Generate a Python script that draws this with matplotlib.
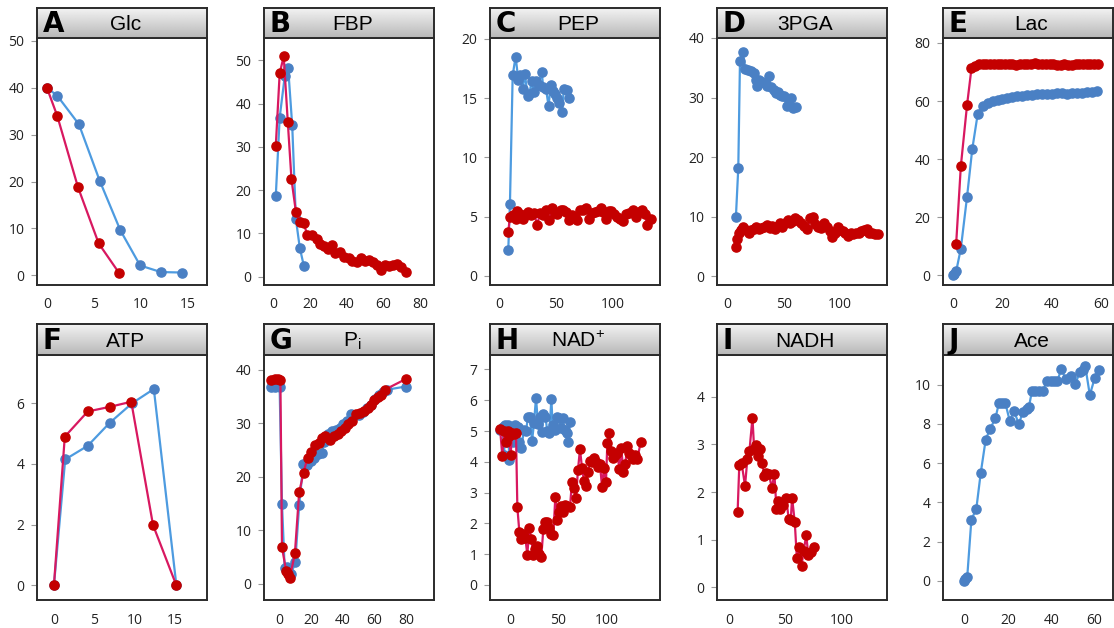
import numpy as np
import matplotlib
matplotlib.use("Agg")
import matplotlib.pyplot as plt

# ---- data ----
glc_blue_x = [0, 1.1, 3.4, 5.6, 7.8, 9.9, 12.1, 14.3]
glc_blue_y = [40, 38.3, 32.2, 20.2, 9.6, 2.1, 0.7, 0.6]
glc_red_x = [0, 1.1, 3.3, 5.5, 7.7]
glc_red_y = [40, 34, 18.8, 6.8, 0.4]

fbp_blue_x = [1.5, 3.6, 6.4, 8.2, 10.4, 12.4, 14.5, 16.7]
fbp_blue_y = [18.7, 36.8, 46.5, 48.3, 35, 13.3, 6.7, 2.5]
fbp_red_x = [1.5, 3.6, 5.8, 8, 10, 12.4, 14.5, 16.7, 18.5, 21, 23.6, 25.5, 27.6, 30, 32,
             33.6, 36.4, 38.5, 41, 43, 45.5, 47.6, 50, 52, 54, 56.4, 58.5, 60.7, 63, 65,
             67.3, 69.6, 72]
fbp_red_y = [30.3, 47, 51, 35.8, 22.5, 15, 12.7, 12.3, 9.7, 9.6, 8.7, 7.5, 7.0, 6.5, 7.3,
             5.5, 5.7, 4.5, 4.3, 3.7, 3.5, 4.3, 3.6, 3.8, 3.3, 2.7, 1.6, 2.7, 2.4, 2.6,
             2.9, 2.2, 1.1]

pep_blue_x = [7.9, 9.4, 11.8, 14.4, 16.8, 18.2, 20.6, 22.6, 25, 26.5, 28.5, 30.6, 32.4,
              34.7, 37.4, 38.8, 41.2, 43.5, 45.3, 47.6, 49.4, 51.2, 53, 55.3, 57, 59.4, 61.8]
pep_blue_y = [2.15, 6.1, 16.9, 18.5, 16.5, 16.9, 15.8, 17.0, 15.2, 15.3, 16.4, 15.5, 16.4,
              16.1, 17.2, 15.9, 15.8, 14.3, 16.1, 15.6, 15.3, 15.0, 14.6, 13.8, 15.8, 15.7, 15.0]
pep_red_x = [7.9, 9.4, 11.8, 14.7, 15.9, 18.2, 20.6, 22.9, 25.3, 27.6, 30.6, 33.5, 35.9,
             38.8, 41.2, 44.1, 46.5, 48.8, 51.2, 54.1, 56.5, 58.8, 61.8, 64.1, 66.5, 68.8,
             71.2, 73.5, 76.5, 79.4, 81.8, 84.1, 87.1, 90, 91.8, 94.1, 96.5, 98.8, 101.2,
             103.5, 106.5, 109.4, 111.8, 114.1, 117.6, 120.6, 123.5, 125.9, 128.2, 130.6, 133.5]
pep_red_y = [3.7, 5.0, 5.1, 4.8, 5.5, 5.2, 4.8, 5.1, 5.4, 5.1, 5.3, 4.3, 5.3, 5.1, 5.6,
             4.7, 5.7, 5.3, 5.2, 5.6, 5.6, 5.4, 4.7, 5.1, 5.0, 4.7, 5.6, 5.6, 5.7, 4.8,
             5.3, 5.4, 5.5, 5.7, 5.4, 4.8, 5.5, 5.5, 5.2, 5.0, 4.8, 4.6, 5.2, 5.3, 5.6,
             5.0, 5.4, 5.6, 5.2, 4.3, 4.8]

pga_blue_x = [7.5, 9.6, 11.1, 13.5, 15.9, 18.6, 20.7, 23.1, 24.9, 26.6, 28.4, 30.8, 33.2,
              35.0, 36.8, 38.6, 41, 42.8, 44.6, 46.4, 48.8, 50.6, 52.4, 54.5, 56.6, 58.4, 60.5]
pga_blue_y = [10.0, 18.2, 36.2, 37.6, 34.8, 34.7, 34.4, 34.1, 33.0, 32.0, 32.9, 32.6, 32.5,
              32.0, 33.6, 31.8, 31.3, 30.7, 31.0, 30.4, 30.3, 30.3, 28.5, 29.8, 30.0, 28.2, 28.4]
pga_red_x = [7.5, 8.7, 10.5, 12.3, 14.1, 16.5, 18.9, 20.7, 23.1, 25.4, 27.8, 30.2, 32.6,
             35.0, 37.4, 39.8, 42.2, 44.6, 46.4, 48.8, 51.2, 53.6, 55.4, 57.8, 60.2, 62.6,
             65.0, 68.0, 71.0, 73.4, 75.7, 78.1, 80.5, 82.9, 85.9, 88.3, 91.3, 93.1, 95.5,
             97.9, 99.7, 102.1, 104.5, 106.9, 109.3, 111.7, 114.1, 116.5, 118.9, 121.3,
             123.7, 126.0, 128.4, 130.8, 133.8]
pga_red_y = [4.9, 6.2, 7.2, 7.8, 8.3, 7.7, 7.2, 7.7, 7.9, 8.2, 7.9, 8.1, 8.2,
             8.5, 8.0, 8.4, 7.9, 8.4, 9.0, 8.2, 9.0, 9.5, 9.0, 9.3, 9.7, 9.4,
             8.9, 8.4, 7.9, 9.7, 10.0, 8.8, 8.2, 8.0, 8.9, 8.3, 7.5, 6.6, 7.2,
             8.3, 7.7, 7.5, 7.2, 6.7, 7.2, 7.1, 7.3, 7.3, 7.5, 7.7,
             7.9, 7.3, 7.2, 7.1, 7.0]

lac_blue_x = [0, 0.5, 1.3, 3.2, 5.7, 7.8, 10.0, 12.1, 14, 16, 18, 20, 22, 24, 26, 28, 30,
              32, 34, 36, 38, 40, 42, 44, 46, 48, 50, 52, 54, 56, 58]
lac_blue_y = [0, 0.5, 1.3, 9.2, 27, 43.4, 55.5, 58.2, 59.2, 60, 60.5, 60.8, 61.2, 61.5,
              61.8, 61.9, 62, 62.2, 62.3, 62.4, 62.4, 62.5, 62.6, 62.6, 62.5, 62.6, 62.7,
              62.8, 63.0, 63.0, 63.3]
lac_red_x = [1.3, 3.2, 5.7, 7.5, 9.0, 10.5, 12, 13.5, 15, 16.5, 18, 19.5, 21, 22.5, 24,
             25.5, 27, 28.5, 30, 31.5, 33, 34.5, 36, 37.5, 39, 40.5, 42, 43.5, 45, 46.5,
             48, 49.5, 51, 52.5, 54, 55.5, 57, 58.5]
lac_red_y = [10.7, 37.6, 58.6, 71.3, 72.2, 72.6, 72.7, 72.6, 72.6, 72.6, 72.6, 72.7, 72.8,
             72.7, 72.8, 72.5, 72.6, 72.7, 72.8, 72.9, 73.0, 72.9, 72.8, 72.8, 72.7, 72.6,
             72.5, 72.4, 72.6, 72.5, 72.5, 72.6, 72.6, 72.7, 72.7, 72.7, 72.8, 72.8]

atp_blue_x = [0, 1.4, 4.2, 6.9, 9.7, 12.4, 15.2]
atp_blue_y = [0, 4.15, 4.6, 5.35, 6.0, 6.47, 0]
atp_red_x = [0, 1.35, 4.2, 6.9, 9.6, 12.3, 15.2]
atp_red_y = [0, 4.9, 5.73, 5.88, 6.05, 1.99, 0]

pi_blue_x = [-5.3, -2.7, 0, 1.5, 3.2, 4.8, 7.4, 9.9, 12.4, 15, 17.5, 19.6, 21.7, 24.2, 26.7,
             28.4, 30.5, 33, 35.6, 38.1, 40.2, 42.7, 45.3, 47.8, 50.3, 52.8, 55.4, 57.9,
             60.4, 63, 65.5, 68, 80]
pi_blue_y = [36.9, 36.9, 36.9, 15.0, 2.9, 3.2, 1.9, 4.0, 14.7, 22.4, 22.2, 22.9, 23.5,
             24.3, 24.4, 26.6, 28.0, 28.5, 28.8, 29.1, 29.9, 30.5, 31.8, 31.6, 31.6, 32.1,
             32.9, 33.5, 34.6, 35.4, 35.9, 36.3, 36.9]
pi_red_x = [-5.3, -3.2, -1.1, 0.5, 1.5, 4.2, 5.3, 6.5, 9.7, 12.4, 15.2, 17.7, 20.0, 22.7,
            25.1, 26.7, 28.8, 31.8, 34.3, 36.8, 38.9, 41.5, 43.2, 45.7, 48.2, 50.7, 53.3,
            55.8, 57.9, 60.0, 62.1, 64.2, 66.7, 80]
pi_red_y = [38.1, 38.3, 38.3, 38.1, 6.8, 2.3, 1.9, 1.1, 5.7, 17.1, 20.8, 23.6, 24.6, 25.9,
            26.4, 27.2, 27.6, 26.8, 27.6, 28.0, 28.5, 29.1, 29.8, 30.4, 31.8, 31.9, 32.4,
            32.9, 33.4, 34.3, 34.9, 35.3, 36.3, 38.3]

nad_blue_x = [-10.3, -7.6, -6.2, -4.8, -3.4, -2.1, -0.7, 1.0, 2.8, 5.5, 8.3, 9.7, 11.7, 14.5,
              16.6, 18.6, 20.7, 22.8, 24.8, 26.9, 29, 31, 33.1, 34.5, 36.6, 38.6, 40.7,
              42.8, 44.1, 46.2, 48.3, 50.3, 52.4, 54.5, 56.6, 58.6, 60, 62.1]
nad_blue_y = [5.03, 5.14, 4.22, 5.19, 4.65, 5.2, 4.06, 4.8, 4.65, 5.19, 5.14, 4.65, 4.46,
              5.03, 5.0, 5.47, 5.47, 4.67, 5.25, 6.08, 5.22, 5.47, 4.98, 5.55, 5.47, 5.0,
              4.93, 6.04, 5.19, 5.03, 5.47, 5.41, 5.09, 5.41, 5.03, 4.93, 4.63, 5.28]
nad_red_x = [-10.3, -7.9, -6.2, -4.5, -2.4, -0.7, 0.7, 2.1, 4.1, 6.2, 7.6, 9.7, 11.7, 13.8,
             15.9, 17.9, 20.0, 22.1, 24.1, 26.2, 28.3, 30.3, 32.4, 34.5, 36.6, 38.6, 40.7,
             42.8, 44.8, 46.9, 49.0, 51.0, 53.1, 55.2, 57.2, 59.3, 62.1, 64.1, 66.2, 68.3,
             70.3, 72.4, 74.5, 76.6, 78.6, 80.7, 82.8, 84.8, 86.9, 89.0, 91.0, 93.1, 95.2,
             97.2, 99.3, 100.7, 102.8, 104.8, 106.9, 109.0, 111.0, 113.1, 115.2, 117.2,
             119.3, 121.4, 123.4, 125.5, 127.6, 129.7, 131.7, 135.2]
nad_red_y = [5.08, 4.18, 5.0, 4.65, 5.0, 4.85, 4.22, 4.95, 4.89, 4.92, 2.52, 1.71, 1.49,
             1.65, 1.52, 0.98, 1.84, 1.49, 0.98, 1.18, 1.28, 1.0, 0.92, 1.82, 2.06, 2.06,
             1.84, 1.65, 1.62, 2.86, 2.12, 2.38, 2.57, 2.36, 2.6, 2.57, 2.54, 3.35, 3.14,
             2.81, 3.73, 4.41, 3.8, 3.37, 3.22, 3.67, 4.02, 4.0, 4.11, 3.98, 3.84, 3.92,
             3.19, 3.8, 3.35, 4.6, 4.92, 4.35, 4.11, 4.22, 4.27, 3.78, 4.45, 3.67, 3.94,
             4.52, 4.27, 4.22, 4.09, 4.22, 4.09, 4.63]

nadh_red_x = [7.8, 9.3, 11.4, 14.4, 16.5, 18.3, 21.0, 22.5, 24.3, 25.5, 27.9, 29.7, 31.5,
              33.3, 35.7, 38.1, 40.5, 42.3, 44.1, 45.9, 48.3, 50.8, 53.2, 55.0, 56.2, 58.6,
              60.4, 62.2, 64.6, 66.4, 68.8, 70.6, 73.0, 75.4]
nadh_red_y = [1.57, 2.56, 2.6, 2.13, 2.7, 2.86, 3.56, 2.9, 2.98, 2.76, 2.9, 2.62, 2.34,
              2.41, 2.37, 2.09, 2.37, 1.65, 1.81, 1.65, 1.72, 1.88, 1.44, 1.41, 1.88, 1.36,
              0.62, 0.85, 0.45, 0.76, 1.09, 0.67, 0.74, 0.85]

ace_blue_x = [-0.3, 0.3, 1.2, 3.1, 5.4, 7.4, 9.7, 11.7, 14.2, 15.8, 17.2, 18.8, 20.8, 22.8,
              25.0, 26.9, 28.6, 29.7, 31.1, 32.6, 34.5, 36.3, 37.8, 39.7, 41.2, 42.8, 44.6,
              46.6, 48.9, 51.1, 53.1, 54.8, 55.7, 57.8, 60, 62.2]
ace_blue_y = [0, 0.09, 0.22, 3.11, 3.69, 5.48, 7.19, 7.74, 8.28, 9.06, 9.06, 9.06, 8.16,
              8.66, 7.99, 8.62, 8.76, 8.88, 9.69, 9.69, 9.66, 9.69, 10.2, 10.17, 10.17, 10.17,
              10.8, 10.29, 10.43, 10.03, 10.63, 10.77, 10.94, 9.47, 10.32, 10.77]

# panel letter, title, x limits, y limits, x ticks, y ticks, series
panels = [
    ("A", "Glc", (-1.05, 17.0), (-2.06, 50.6), [0, 5, 10, 15], [0, 10, 20, 30, 40, 50],
     (glc_blue_x, glc_blue_y), (glc_red_x, glc_red_y)),
    ("B", "FBP", (-4.9, 87.3), (-1.93, 55.2), [0, 20, 40, 60, 80], [0, 10, 20, 30, 40, 50],
     (fbp_blue_x, fbp_blue_y), (fbp_red_x, fbp_red_y)),
    ("C", "PEP", (-8.2, 141.8), (-0.76, 20.06), [0, 50, 100], [0, 5, 10, 15, 20],
     (pep_blue_x, pep_blue_y), (pep_red_x, pep_red_y)),
    ("D", "3PGA", (-9.3, 141.6), (-1.5, 40.0), [0, 50, 100], [0, 10, 20, 30, 40],
     (pga_blue_x, pga_blue_y), (pga_red_x, pga_red_y)),
    ("E", "Lac", (-4.0, 64.6), (-3.35, 81.7), [0, 20, 40, 60], [0, 20, 40, 60, 80],
     (lac_blue_x, lac_blue_y), (lac_red_x, lac_red_y)),
    ("F", "ATP", (-2.1, 19.0), (-0.48, 7.59), [0, 5, 10, 15], [0, 2, 4, 6],
     (atp_blue_x, atp_blue_y), (atp_red_x, atp_red_y)),
    ("G", r"P$_\mathregular{i}$", (-9.9, 97.9), (-3.06, 42.8), [0, 20, 40, 60, 80], [0, 10, 20, 30, 40],
     (pi_blue_x, pi_blue_y), (pi_red_x, pi_red_y)),
    ("H", r"NAD$^\mathregular{+}$", (-20.7, 155.2), (-0.49, 7.47), [0, 50, 100], [0, 1, 2, 3, 4, 5, 6, 7],
     (nad_blue_x, nad_blue_y), (nad_red_x, nad_red_y)),
    ("I", "NADH", (-10.5, 140.5), (-0.27, 4.88), [0, 50, 100], [0, 1, 2, 3, 4],
     None, (nadh_red_x, nadh_red_y)),
    ("J", "Ace", (-10.0, 68.5), (-0.97, 11.51), [0, 20, 40, 60], [0, 2, 4, 6, 8, 10],
     (ace_blue_x, ace_blue_y), None),
]

W, H = 1114, 628
fig = plt.figure(figsize=(W / 100, H / 100), dpi=100)
fig.patch.set_facecolor("white")

col_left = [37, 264, 490, 717, 943]
panel_w = 170
rows = [(8, 38, 285), (324, 355, 600)]  # title top, title bottom / plot top, plot bottom

blue_line, blue_mk = "#4d9be0", "#4a80c4"
red_line, red_mk = "#d81860", "#c40000"
frame_col = "#2b2b2b"

grad = np.linspace(0.95, 0.72, 50).reshape(-1, 1)

for i, (letter, title, xl, yl, xt, yt, blue, red) in enumerate(panels):
    r, c = divmod(i, 5)
    t_top, t_bot, p_bot = rows[r]
    x0 = col_left[c]

    ax = fig.add_axes([x0 / W, 1 - p_bot / H, panel_w / W, (p_bot - t_bot) / H])
    if blue is not None:
        ax.plot(blue[0], blue[1], "-o", color=blue_line, lw=1.6, ms=6.6,
                mfc=blue_mk, mec=blue_mk)
    if red is not None:
        ax.plot(red[0], red[1], "-o", color=red_line, lw=1.6, ms=6.6,
                mfc=red_mk, mec=red_mk)
    ax.set_xlim(xl)
    ax.set_ylim(yl)
    ax.set_xticks(xt)
    ax.set_yticks(yt)
    ax.tick_params(axis="y", length=4, width=0.8, color="#999999", pad=5,
                   labelsize=10, labelcolor="#222222")
    ax.tick_params(axis="x", length=0, pad=9, labelsize=10, labelcolor="#222222")
    for lab in ax.get_xticklabels() + ax.get_yticklabels():
        lab.set_fontfamily("Open Sans")
    for s in ax.spines.values():
        s.set_color(frame_col)
        s.set_linewidth(1.4)

    # gray gradient title bar
    tax = fig.add_axes([x0 / W, 1 - t_bot / H, panel_w / W, (t_bot - t_top) / H])
    tax.imshow(grad, aspect="auto", cmap="gray", vmin=0, vmax=1,
               extent=[0, 1, 0, 1], interpolation="bilinear")
    tax.set_xlim(0, 1)
    tax.set_ylim(0, 1)
    tax.set_xticks([])
    tax.set_yticks([])
    for s in tax.spines.values():
        s.set_color(frame_col)
        s.set_linewidth(1.4)
    tax.text(0.035, 0.45, letter, fontsize=20, fontweight="black",
             family="DejaVu Sans", ha="left", va="center", color="black")
    tax.text(0.52, 0.45, title, fontsize=15, family="Liberation Sans",
             ha="center", va="center", color="black")

fig.savefig("out.png", dpi=100)
